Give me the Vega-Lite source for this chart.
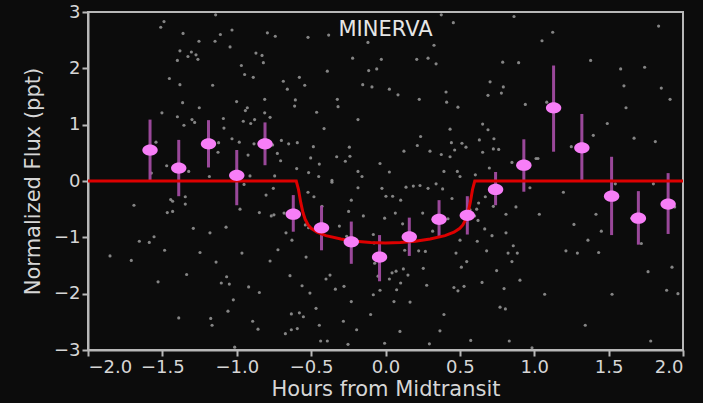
{
  "$schema": "https://vega.github.io/schema/vega-lite/v6.json",
  "autosize": "none",
  "width": 595,
  "height": 338,
  "padding": {"left": 88, "top": 12, "right": 20, "bottom": 53},
  "background": "#0c0c0c",
  "config": {
    "view": {"stroke": "#b8b8b8", "strokeWidth": 2},
    "font": "DejaVu Sans",
    "axis": {"grid": false, "domainColor": "#b8b8b8", "domainWidth": 2, "tickColor": "#b8b8b8", "tickWidth": 2, "tickSize": 6, "labelColor": "#d6d6d6", "titleColor": "#d6d6d6", "labelFontSize": 18, "titleFontSize": 21, "titleFontWeight": "normal", "labelFont": "DejaVu Sans", "titleFont": "DejaVu Sans"}
  },
  "datasets": {
    "raw": [
      {"t":-1.489,"f":2.83},{"t":-1.511,"f":2.73},{"t":-1.361,"f":2.62},{"t":-1.142,"f":2.95},{"t":-1.032,"f":2.68},{"t":-1.110,"f":2.60},{"t":-1.146,"f":2.48},{"t":-1.254,"f":2.48},{"t":-1.045,"f":2.38},{"t":-1.382,"f":2.31},{"t":-1.305,"f":2.29},{"t":-1.274,"f":2.24},{"t":-1.328,"f":2.21},{"t":-1.261,"f":2.16},{"t":-1.399,"f":2.14},{"t":-1.453,"f":1.82},{"t":-1.382,"f":1.71},{"t":-1.162,"f":1.70},{"t":-1.364,"f":1.39},{"t":-1.252,"f":1.30},{"t":-1.503,"f":1.21},{"t":-1.399,"f":1.14},{"t":-1.301,"f":1.09},{"t":-1.283,"f":1.04},{"t":-1.355,"f":0.99},{"t":-1.090,"f":1.11},{"t":-1.086,"f":0.94},{"t":-1.032,"f":0.75},{"t":-1.543,"f":0.69},{"t":-1.122,"f":0.68},{"t":-1.126,"f":0.51},{"t":-1.471,"f":0.27},{"t":-1.323,"f":0.17},{"t":-1.574,"f":0.14},{"t":-1.184,"f":0.08},{"t":-1.001,"f":1.41},
      {"t":-0.794,"f":2.63},{"t":-0.741,"f":2.57},{"t":-0.521,"f":2.55},{"t":-0.382,"f":2.59},{"t":-0.118,"f":2.46},{"t":-0.871,"f":2.27},{"t":-0.830,"f":2.23},{"t":-0.821,"f":2.10},{"t":-0.969,"f":2.05},{"t":-0.221,"f":2.18},{"t":-0.028,"f":2.16},{"t":-0.947,"f":1.89},{"t":-0.889,"f":1.84},{"t":-0.391,"f":1.95},{"t":-0.579,"f":1.84},{"t":-0.113,"f":1.96},{"t":-0.059,"f":1.99},{"t":-0.687,"f":1.77},{"t":-0.660,"f":1.63},{"t":-0.543,"f":1.70},{"t":-0.153,"f":1.71},{"t":-0.091,"f":1.67},{"t":-0.812,"f":1.45},{"t":-0.606,"f":1.44},{"t":-0.324,"f":1.45},{"t":-0.611,"f":1.33},{"t":-0.319,"f":1.32},{"t":-0.929,"f":1.30},{"t":-0.942,"f":1.25},{"t":-0.812,"f":1.21},{"t":-0.776,"f":1.13},{"t":-0.956,"f":1.06},{"t":-0.880,"f":1.09},{"t":-0.906,"f":1.02},{"t":-0.463,"f":1.22},{"t":-0.185,"f":1.09},{"t":-0.413,"f":0.93},{"t":-0.983,"f":0.69},{"t":-0.884,"f":0.66},{"t":-0.700,"f":0.72},{"t":-0.651,"f":0.66},{"t":-0.593,"f":0.68},{"t":-0.759,"f":0.64},{"t":-0.485,"f":0.61},{"t":-0.924,"f":0.46},{"t":-0.727,"f":0.49},{"t":-0.705,"f":0.36},{"t":-0.503,"f":0.41},{"t":-0.445,"f":0.30},{"t":-0.328,"f":0.43},{"t":-0.243,"f":0.60},{"t":-0.239,"f":0.44},{"t":-0.270,"f":0.35},{"t":-0.597,"f":0.22},{"t":-0.517,"f":0.15},{"t":-0.745,"f":0.09},{"t":-0.911,"f":0.09},{"t":-0.449,"f":0.08},{"t":-0.185,"f":0.17},{"t":-0.037,"f":0.31},{"t":-0.360,"f":0.01},{"t":-0.158,"f":0.08},
      {"t":0.375,"f":2.95},{"t":0.456,"f":2.81},{"t":0.864,"f":2.92},{"t":0.326,"f":2.41},{"t":0.210,"f":2.16},{"t":0.286,"f":2.18},{"t":0.340,"f":2.08},{"t":0.788,"f":2.11},{"t":0.895,"f":2.10},{"t":0.026,"f":1.63},{"t":0.084,"f":1.53},{"t":0.407,"f":1.58},{"t":0.227,"f":1.45},{"t":0.411,"f":1.40},{"t":0.487,"f":1.31},{"t":0.703,"f":1.76},{"t":0.792,"f":1.67},{"t":0.689,"f":1.52},{"t":0.779,"f":1.56},{"t":0.940,"f":1.36},{"t":0.434,"f":0.92},{"t":0.236,"f":0.79},{"t":0.214,"f":0.63},{"t":0.653,"f":1.01},{"t":0.689,"f":0.91},{"t":0.631,"f":0.73},{"t":0.729,"f":0.75},{"t":0.443,"f":0.68},{"t":0.514,"f":0.67},{"t":0.541,"f":0.60},{"t":0.465,"f":0.55},{"t":0.299,"f":0.53},{"t":0.124,"f":0.53},{"t":0.375,"f":0.47},{"t":0.434,"f":0.43},{"t":0.653,"f":0.51},{"t":0.725,"f":0.57},{"t":0.761,"f":0.56},{"t":0.850,"f":0.33},{"t":1.012,"f":0.40},{"t":0.698,"f":0.23},{"t":0.483,"f":0.17},{"t":0.393,"f":0.17},{"t":0.604,"f":0.11},{"t":0.501,"f":0.08},{"t":0.026,"f":0.16},{"t":0.891,"f":0.28},
      {"t":1.124,"f":2.64},{"t":1.052,"f":2.49},{"t":1.836,"f":2.75},{"t":1.379,"f":2.14},{"t":1.581,"f":1.99},{"t":1.742,"f":2.02},{"t":1.603,"f":1.69},{"t":1.854,"f":1.65},{"t":1.913,"f":1.45},{"t":1.617,"f":1.30},{"t":1.491,"f":1.02},{"t":1.084,"f":1.40},{"t":1.397,"f":0.81},{"t":1.671,"f":0.76},{"t":1.814,"f":0.70},{"t":1.249,"f":0.61},{"t":1.025,"f":0.40},
      {"t":-1.691,"f":-0.43},{"t":-1.444,"f":-0.33},{"t":-1.431,"f":-0.36},{"t":-1.346,"f":-0.28},{"t":-1.346,"f":-0.41},{"t":-1.467,"f":-0.56},{"t":-1.431,"f":-0.54},{"t":-1.292,"f":-0.84},{"t":-1.180,"f":-0.92},{"t":-1.072,"f":-0.82},{"t":-1.655,"f":-1.07},{"t":-1.588,"f":-1.09},{"t":-1.556,"f":-0.99},{"t":-1.485,"f":-1.23},{"t":-1.852,"f":-1.33},{"t":-1.709,"f":-1.41},{"t":-1.247,"f":-1.27},{"t":-1.139,"f":-1.44},{"t":-1.529,"f":-1.79},{"t":-1.337,"f":-1.66},{"t":-1.104,"f":-1.81},{"t":-1.050,"f":-1.83},{"t":-1.068,"f":-1.70},{"t":-1.023,"f":-2.11},{"t":-1.059,"f":-2.31},{"t":-1.390,"f":-2.43},{"t":-1.175,"f":-2.44},{"t":-1.166,"f":-2.56},{"t":-1.014,"f":-2.95},
      {"t":-0.803,"f":-0.25},{"t":-0.754,"f":-0.13},{"t":-0.951,"f":-0.06},{"t":-0.978,"f":-0.50},{"t":-0.848,"f":-0.56},{"t":-0.768,"f":-0.62},{"t":-0.750,"f":-0.60},{"t":-0.682,"f":-0.57},{"t":-0.521,"f":-0.20},{"t":-0.481,"f":-0.28},{"t":-0.360,"f":-0.02},{"t":-0.427,"f":-0.45},{"t":-0.230,"f":-0.34},{"t":-0.149,"f":-0.62},{"t":-0.024,"f":-0.13},{"t":0.003,"f":-0.27},{"t":-0.006,"f":-0.66},{"t":-0.669,"f":-0.92},{"t":-0.629,"f":-1.05},{"t":-0.539,"f":-0.78},{"t":-0.517,"f":-0.83},{"t":-0.310,"f":-0.80},{"t":-0.261,"f":-0.98},{"t":-0.082,"f":-0.95},{"t":-0.077,"f":-1.10},{"t":-0.965,"f":-1.28},{"t":-0.776,"f":-1.42},{"t":-0.723,"f":-1.22},{"t":-0.534,"f":-1.35},{"t":-0.642,"f":-1.68},{"t":-0.400,"f":-1.74},{"t":-0.373,"f":-1.67},{"t":-0.073,"f":-1.46},{"t":-0.050,"f":-1.69},{"t":-0.561,"f":-1.86},{"t":-0.508,"f":-1.99},{"t":-0.337,"f":-1.92},{"t":-0.279,"f":-1.87},{"t":-0.920,"f":-1.88},{"t":-0.848,"f":-1.98},{"t":-0.230,"f":-2.14},{"t":-0.082,"f":-2.02},{"t":-0.037,"f":-1.94},{"t":-0.467,"f":-2.26},{"t":-0.633,"f":-2.36},{"t":-0.579,"f":-2.34},{"t":-0.552,"f":-2.41},{"t":-0.893,"f":-2.49},{"t":-0.857,"f":-2.63},{"t":-0.673,"f":-2.71},{"t":-0.633,"f":-2.64},{"t":-0.593,"f":-2.62},{"t":-0.445,"f":-2.56},{"t":-0.283,"f":-2.49},{"t":-0.100,"f":-2.37},{"t":-0.194,"f":-2.64},{"t":-0.436,"f":-2.84},{"t":-0.391,"f":-2.84},{"t":-0.252,"f":-2.90},{"t":-0.006,"f":-2.88},{"t":-0.248,"f":-0.54},{"t":-0.185,"f":-0.12},
      {"t":0.138,"f":-0.11},{"t":0.187,"f":-0.09},{"t":0.232,"f":-0.08},{"t":0.286,"f":-0.13},{"t":0.340,"f":-0.05},{"t":0.384,"f":-0.14},{"t":0.048,"f":-0.27},{"t":0.102,"f":-0.34},{"t":0.447,"f":-0.31},{"t":0.066,"f":-0.57},{"t":0.250,"f":-0.57},{"t":0.115,"f":-0.76},{"t":0.317,"f":-0.89},{"t":0.420,"f":-0.67},{"t":0.626,"f":-0.39},{"t":0.613,"f":-0.50},{"t":0.671,"f":-0.28},{"t":0.725,"f":-0.45},{"t":0.877,"f":-0.46},{"t":0.810,"f":-0.59},{"t":0.971,"f":-0.12},{"t":0.667,"f":-0.85},{"t":0.716,"f":-0.97},{"t":0.810,"f":-0.92},{"t":0.501,"f":-1.05},{"t":0.617,"f":-1.07},{"t":0.680,"f":-1.24},{"t":0.859,"f":-1.15},{"t":0.824,"f":-1.28},{"t":0.886,"f":-1.28},{"t":0.129,"f":-1.23},{"t":0.223,"f":-1.24},{"t":0.268,"f":-1.25},{"t":0.474,"f":-1.28},{"t":0.546,"f":-1.43},{"t":0.510,"f":-1.53},{"t":0.254,"f":-1.55},{"t":0.120,"f":-1.56},{"t":0.071,"f":-1.60},{"t":0.044,"f":-1.63},{"t":0.026,"f":-1.74},{"t":0.102,"f":-1.81},{"t":0.151,"f":-1.67},{"t":0.747,"f":-1.59},{"t":0.850,"f":-1.43},{"t":0.904,"f":-1.76},{"t":0.277,"f":-1.85},{"t":0.075,"f":-1.93},{"t":0.460,"f":-1.89},{"t":0.487,"f":-1.95},{"t":0.528,"f":-1.87},{"t":0.649,"f":-1.80},{"t":0.797,"f":-1.91},{"t":0.057,"f":-2.14},{"t":0.165,"f":-2.15},{"t":0.770,"f":-2.24},{"t":0.806,"f":-2.27},{"t":0.393,"f":-2.37},{"t":0.097,"f":-2.67},{"t":0.366,"f":-2.66},{"t":0.295,"f":-2.89},{"t":0.573,"f":-2.83},{"t":0.832,"f":-2.84},{"t":0.985,"f":-2.96},{"t":0.568,"f":-0.51},{"t":0.599,"f":-0.62},{"t":0.622,"f":-0.70},
      {"t":1.196,"f":-0.20},{"t":1.545,"f":-0.05},{"t":1.801,"f":-0.05},{"t":1.034,"f":-0.59},{"t":1.267,"f":-0.77},{"t":1.415,"f":-0.59},{"t":1.655,"f":-0.66},{"t":1.451,"f":-0.89},{"t":1.361,"f":-1.05},{"t":1.213,"f":-1.24},{"t":1.290,"f":-1.28},{"t":1.433,"f":-1.27},{"t":1.720,"f":-1.11},{"t":1.944,"f":-0.46},{"t":1.765,"f":-1.61},{"t":1.926,"f":-1.53},{"t":1.890,"f":-1.94},{"t":1.966,"f":-2.00},{"t":1.070,"f":-2.01},{"t":1.523,"f":-2.01},{"t":1.343,"f":-2.56},{"t":1.783,"f":-2.84}
    ],
    "binned": [
      {"t":-1.583,"f":0.55,"lo":0.01,"hi":1.09},
      {"t":-1.39,"f":0.23,"lo":-0.27,"hi":0.73},
      {"t":-1.19,"f":0.66,"lo":0.24,"hi":1.08},
      {"t":-1.0,"f":0.10,"lo":-0.43,"hi":0.55},
      {"t":-0.81,"f":0.66,"lo":0.28,"hi":1.04},
      {"t":-0.62,"f":-0.59,"lo":-0.90,"hi":-0.25},
      {"t":-0.43,"f":-0.83,"lo":-1.23,"hi":-0.44},
      {"t":-0.23,"f":-1.08,"lo":-1.47,"hi":-0.72},
      {"t":-0.04,"f":-1.35,"lo":-1.78,"hi":-0.96},
      {"t":0.16,"f":-0.99,"lo":-1.33,"hi":-0.65},
      {"t":0.36,"f":-0.68,"lo":-1.0,"hi":-0.34},
      {"t":0.55,"f":-0.61,"lo":-0.95,"hi":-0.27},
      {"t":0.74,"f":-0.15,"lo":-0.43,"hi":0.16},
      {"t":0.93,"f":0.28,"lo":-0.19,"hi":0.74},
      {"t":1.13,"f":1.30,"lo":0.52,"hi":2.05},
      {"t":1.32,"f":0.59,"lo":0.01,"hi":1.19},
      {"t":1.52,"f":-0.27,"lo":-0.96,"hi":0.43},
      {"t":1.70,"f":-0.66,"lo":-1.13,"hi":-0.18},
      {"t":1.90,"f":-0.41,"lo":-0.94,"hi":0.14}
    ],
    "model": [
      {"t":-2.0,"f":0},{"t":-0.60,"f":0},{"t":-0.585,"f":-0.15},{"t":-0.57,"f":-0.38},{"t":-0.555,"f":-0.56},{"t":-0.54,"f":-0.68},{"t":-0.52,"f":-0.78},{"t":-0.50,"f":-0.84},{"t":-0.46,"f":-0.91},{"t":-0.40,"f":-0.97},{"t":-0.30,"f":-1.03},{"t":-0.20,"f":-1.07},{"t":-0.10,"f":-1.09},{"t":0.0,"f":-1.10},{"t":0.10,"f":-1.09},{"t":0.20,"f":-1.07},{"t":0.30,"f":-1.03},{"t":0.40,"f":-0.97},{"t":0.46,"f":-0.91},{"t":0.50,"f":-0.84},{"t":0.52,"f":-0.78},{"t":0.54,"f":-0.68},{"t":0.555,"f":-0.56},{"t":0.57,"f":-0.38},{"t":0.585,"f":-0.15},{"t":0.60,"f":0},{"t":2.0,"f":0}
    ],
    "label": [{"t":0.0,"f":2.68,"text":"MINERVA"}]
  },
  "layer": [
    {
      "data": {"name": "raw"},
      "mark": {"type": "circle", "size": 10, "color": "#929292", "opacity": 0.9},
      "encoding": {
        "x": {"field": "t", "type": "quantitative", "scale": {"domain": [-2, 2], "nice": false}, "axis": {"values": [-2, -1.5, -1, -0.5, 0, 0.5, 1, 1.5, 2], "format": ".1f", "title": "Hours from Midtransit", "titlePadding": 2}},
        "y": {"field": "f", "type": "quantitative", "scale": {"domain": [-3, 3], "nice": false}, "axis": {"values": [-3, -2, -1, 0, 1, 2, 3], "format": "d", "title": "Normalized Flux (ppt)", "titlePadding": 10}}
      }
    },
    {
      "data": {"name": "binned"},
      "mark": {"type": "rule", "color": "#a24ca2", "strokeWidth": 3, "opacity": 0.95},
      "encoding": {
        "x": {"field": "t", "type": "quantitative"},
        "y": {"field": "lo", "type": "quantitative"},
        "y2": {"field": "hi"}
      }
    },
    {
      "data": {"name": "model"},
      "mark": {"type": "line", "color": "#dd0000", "strokeWidth": 3},
      "encoding": {
        "x": {"field": "t", "type": "quantitative"},
        "y": {"field": "f", "type": "quantitative"}
      }
    },
    {
      "data": {"name": "binned"},
      "mark": {"type": "point", "shape": "M-1.3,0A1.3,0.95,0,1,0,1.3,0A1.3,0.95,0,1,0,-1.3,0Z", "filled": true, "size": 140, "color": "#f77ef7", "opacity": 1, "strokeWidth": 0},
      "encoding": {
        "x": {"field": "t", "type": "quantitative"},
        "y": {"field": "f", "type": "quantitative"}
      }
    },
    {
      "data": {"name": "label"},
      "mark": {"type": "text", "fontSize": 21, "color": "#e6e6e6", "font": "DejaVu Sans", "align": "center", "baseline": "middle"},
      "encoding": {
        "x": {"field": "t", "type": "quantitative"},
        "y": {"field": "f", "type": "quantitative"},
        "text": {"field": "text"}
      }
    }
  ]
}
